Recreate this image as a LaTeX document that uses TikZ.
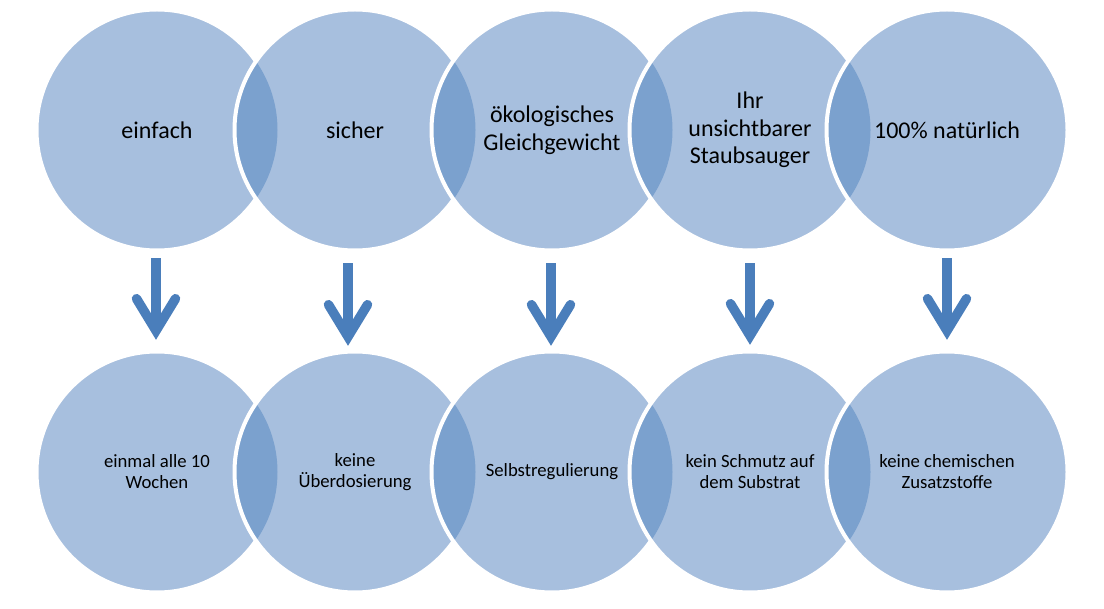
\documentclass[tikz,border=0pt]{standalone}
\usepackage{fontspec}
\setmainfont{Carlito}
\usetikzlibrary{arrows.meta}
\definecolor{bubblefill}{HTML}{A7BFDE}
\definecolor{lensfill}{HTML}{7BA1CE}
\definecolor{arrowblue}{HTML}{4A7EBB}

\begin{document}
\begin{tikzpicture}[x=1pt, y=-1pt,
    bubble/.style={circle, fill=bubblefill, minimum size=241pt, inner sep=0pt, align=center},
    big/.style={font=\fontsize{24}{27.5}\selectfont},
    small/.style={font=\fontsize{18.7}{21}\selectfont},
    rim/.style={draw=white, line width=4pt},
    down/.style={draw=arrowblue, line width=9.5pt,
      -{Straight Barb[length=32pt, width=39pt, line cap=round, line join=miter]}}]
  \useasboundingbox (0,0) rectangle (1104,609);

  % upper row
  \foreach \i/\x/\txt in {1/157/einfach, 2/355/sicher, 3/552/{ökologisches\\Gleichgewicht},
      4/750/{Ihr\\unsichtbarer\\Staubsauger}, 5/947/{100\% natürlich}} {
    \node[bubble, big] (t\i) at (\x,130) {\txt};
    \ifnum\i>1
      \pgfmathtruncatemacro\prev{\i-1}
      \begin{scope}
        \clip (t\prev.center) circle[radius=120.5];
        \fill[lensfill] (t\i.center) circle[radius=120.5];
      \end{scope}
    \fi
    \draw[rim] (t\i.center) circle[radius=120.5];
  }

  % lower row
  \foreach \i/\x/\txt in {1/157/{einmal alle 10\\Wochen}, 2/355/{keine\\Überdosierung}, 3/552/Selbstregulierung,
      4/750/{kein Schmutz auf\\dem Substrat}, 5/947/{keine chemischen\\Zusatzstoffe}} {
    \node[bubble, small] (b\i) at (\x,472) {\txt};
    \ifnum\i>1
      \pgfmathtruncatemacro\prev{\i-1}
      \begin{scope}
        \clip (b\prev.center) circle[radius=120.5];
        \fill[lensfill] (b\i.center) circle[radius=120.5];
      \end{scope}
    \fi
    \draw[rim] (b\i.center) circle[radius=120.5];
  }

  % arrows
  \foreach \i/\dx/\a/\b in {1/-1/7.5/11.5, 2/-7/12.5/5.5, 3/-1/12.5/5.5, 4/0/12.5/6.5, 5/0/7.5/11.5}
    \draw[down, shorten <=\a pt, shorten >=\b pt] ([xshift=\dx pt]t\i.south) -- ([xshift=\dx pt]b\i.north);
\end{tikzpicture}
\end{document}
